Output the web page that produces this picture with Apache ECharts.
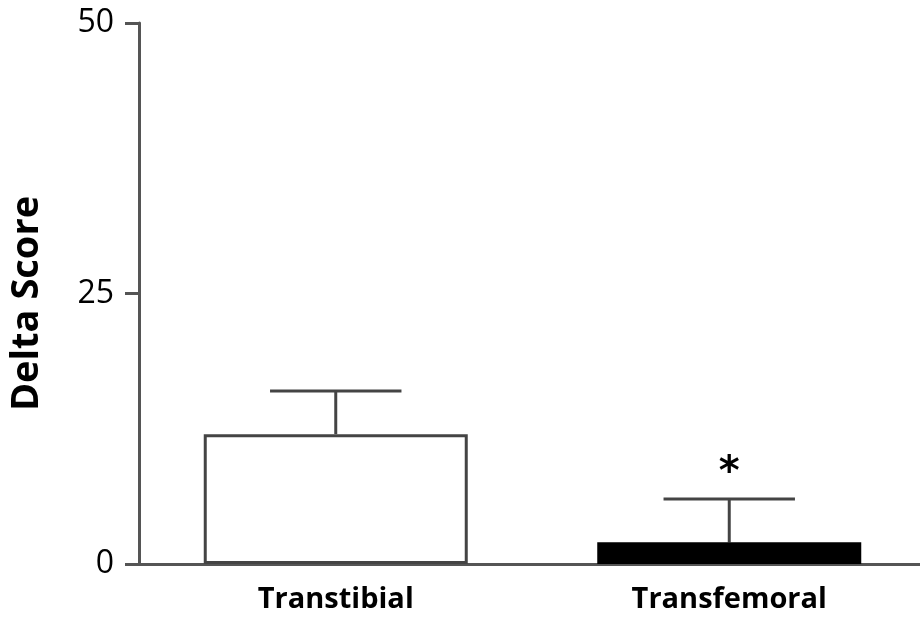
<!DOCTYPE html>
<html>
<head>
<meta charset="utf-8">
<script src="https://cdn.jsdelivr.net/npm/echarts@6/dist/echarts.min.js"></script>
<style>
  html, body { margin: 0; padding: 0; background: #fff; overflow: hidden; }
  #chart { width: 926px; height: 617px; }
</style>
</head>
<body>
<div id="chart"></div>
<script>
// Delta score by tunnel technique (mean with upper error)
const categories = ['Transtibial', 'Transfemoral'];
const meanValues = [12, 2];
const errorValues = [4, 4];
const significance = ['', '*'];
const yTicks = [0, 25, 50];

const barColors = ['#ffffff', '#000000'];
const axisGray = '#555555';

const chart = echarts.init(document.getElementById('chart'));

const barData = meanValues.map((v, i) => ({
  value: v,
  itemStyle: {
    color: barColors[i],
    borderColor: i === 0 ? '#444444' : '#000000',
    borderWidth: 3
  }
}));

const errData = meanValues.map((v, i) => [i, v, v + errorValues[i], significance[i]]);

chart.setOption({
  animation: false,
  backgroundColor: '#ffffff',
  grid: { left: 136, right: 0, top: 23, bottom: 53, containLabel: false },
  xAxis: {
    type: 'category',
    data: categories,
    axisLine: { show: true, lineStyle: { color: axisGray, width: 3 } },
    axisTick: { show: false },
    axisLabel: {
      margin: 21,
      fontFamily: 'Open Sans',
      fontWeight: 'bold',
      fontSize: 29,
      color: '#000'
    }
  },
  yAxis: {
    type: 'value',
    min: yTicks[0],
    max: yTicks[yTicks.length - 1],
    interval: yTicks[1] - yTicks[0],
    name: 'Delta Score',
    nameLocation: 'middle',
    nameGap: 93,
    nameTextStyle: {
      fontFamily: 'Open Sans',
      fontWeight: 'bold',
      fontSize: 38,
      color: '#000',
      padding: [0, 20, 0, 0]
    },
    splitLine: { show: false },
    axisLine: { show: true, lineStyle: { color: axisGray, width: 3 } },
    axisTick: { show: true, length: 14, lineStyle: { color: axisGray, width: 3 } },
    axisLabel: {
      margin: 25,
      fontFamily: 'Open Sans',
      fontWeight: 'normal',
      fontSize: 32,
      color: '#000'
    }
  },
  series: [
    {
      type: 'bar',
      data: barData,
      barWidth: 264,
      z: 2
    },
    {
      type: 'custom',
      data: errData,
      z: 1,
      renderItem: function (params, api) {
        const idx = api.value(0);
        const base = api.coord([idx, api.value(1)]);
        const top = api.coord([idx, api.value(2)]);
        const half = api.size([1, 0])[0] * 0.167;
        const style = { stroke: '#444444', lineWidth: 3 };
        const children = [
          { type: 'line', shape: { x1: base[0], y1: base[1], x2: top[0], y2: top[1] }, style: style },
          { type: 'line', shape: { x1: top[0] - half, y1: top[1], x2: top[0] + half, y2: top[1] }, style: style }
        ];
        const mark = errData[params.dataIndex][3];
        if (mark) {
          children.push({
            type: 'text',
            style: {
              text: mark,
              x: top[0],
              y: top[1] - 5,
              align: 'center',
              verticalAlign: 'bottom',
              fontFamily: 'DejaVu Sans',
              fontWeight: 'bold',
              fontSize: 40,
              fill: '#000'
            }
          });
        }
        return { type: 'group', children: children };
      }
    }
  ]
});
</script>
</body>
</html>
